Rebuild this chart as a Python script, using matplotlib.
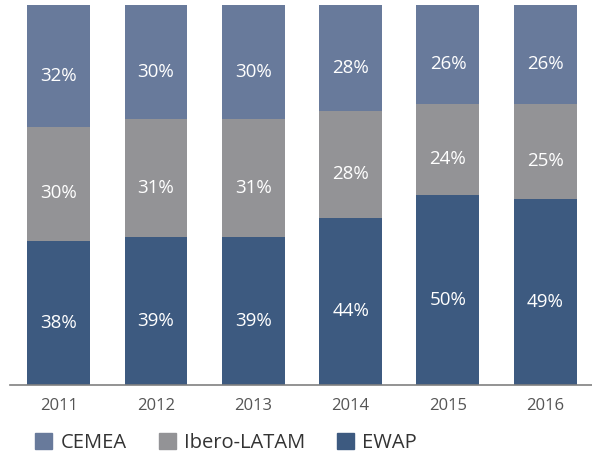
import matplotlib.pyplot as plt
from matplotlib.patches import Patch

plt.rcParams['font.family'] = ['Open Sans', 'DejaVu Sans']

years = ["2011", "2012", "2013", "2014", "2015", "2016"]
ewap = [38, 39, 39, 44, 50, 49]
ibero = [30, 31, 31, 28, 24, 25]
cemea = [32, 30, 30, 28, 26, 26]

c_cemea = "#687a9b"
c_ibero = "#939396"
c_ewap = "#3d5a80"

fig = plt.figure(figsize=(5.92, 4.57), dpi=100)
ax = fig.add_axes([10 / 592, 1 - 385 / 457, 582 / 592, 380 / 457])

x = list(range(len(years)))
w = 0.647
bottom2 = [a + b for a, b in zip(ewap, ibero)]
b1 = ax.bar(x, ewap, w, color=c_ewap)
b2 = ax.bar(x, ibero, w, bottom=ewap, color=c_ibero)
b3 = ax.bar(x, cemea, w, bottom=bottom2, color=c_cemea)

for vals, bots in [(ewap, [0] * 6), (ibero, ewap), (cemea, bottom2)]:
    for xi, v, b in zip(x, vals, bots):
        ax.annotate(f"{v}%", (xi, b + v / 2), xytext=(0, -7), textcoords="offset points",
                    ha="center", va="center", color="white", fontsize=13.5)

ax.set_xlim(-0.5, 5.48)
ax.set_ylim(0, 100)
ax.set_xticks(x)
ax.set_xticklabels(years, fontsize=12, color="#555555")
ax.tick_params(axis="x", length=0, pad=9)
ax.set_yticks([])
for s in ["top", "right", "left"]:
    ax.spines[s].set_visible(False)
ax.spines["bottom"].set_color("#808080")
ax.spines["bottom"].set_linewidth(1.2)

handles = [Patch(color=c_cemea, label="CEMEA"),
           Patch(color=c_ibero, label="Ibero-LATAM"),
           Patch(color=c_ewap, label="EWAP")]
fig.legend(handles=handles, ncol=3, loc="center left", bbox_to_anchor=(17 / 592, 1 - 443 / 457),
           frameon=False, handlelength=0.85, handleheight=0.8,
           handletextpad=0.4, columnspacing=1.6, labelcolor="#333333",
           prop={"size": 14.5})

fig.savefig("out.png", dpi=100)
